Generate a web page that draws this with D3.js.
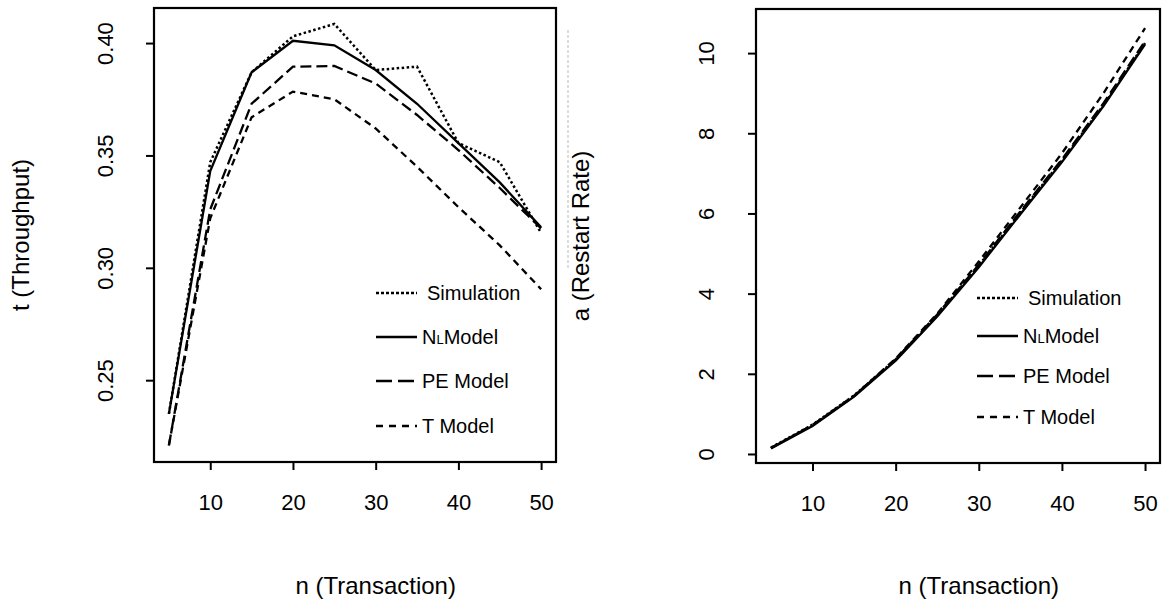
<!DOCTYPE html>
<html>
<head>
<meta charset="utf-8">
<script src="https://cdn.jsdelivr.net/npm/d3@7/dist/d3.min.js"></script>
<style>
  html, body { margin: 0; padding: 0; background: #fff; }
  svg { display: block; }
  text { font-family: "Liberation Sans", Arial, Helvetica, sans-serif; fill: #000; }
</style>
</head>
<body>
<svg id="chart" width="1163" height="612"></svg>
<script>
// ---- data ----
const nValues = [5, 10, 15, 20, 25, 30, 35, 40, 45, 50];

const throughputSim = [0.235, 0.347, 0.387, 0.403, 0.4085, 0.388, 0.3895, 0.3555, 0.347, 0.3155];
const throughputNL  = [0.235, 0.343, 0.387, 0.401, 0.399, 0.388, 0.373, 0.3555, 0.338, 0.318];
const throughputPE  = [0.221, 0.326, 0.373, 0.3895, 0.3898, 0.382, 0.368, 0.3524, 0.3355, 0.3175];
const throughputT   = [0.221, 0.322, 0.367, 0.3784, 0.375, 0.362, 0.345, 0.327, 0.310, 0.2905];

const restartSim = [0.16, 0.73, 1.46, 2.36, 3.45, 4.70, 6.02, 7.32, 8.70, 10.25];
const restartNL  = [0.14, 0.70, 1.43, 2.33, 3.43, 4.66, 5.98, 7.28, 8.68, 10.22];
const restartPE  = [0.15, 0.72, 1.45, 2.36, 3.48, 4.72, 6.05, 7.35, 8.75, 10.30];
const restartT   = [0.15, 0.72, 1.45, 2.38, 3.50, 4.80, 6.15, 7.50, 9.00, 10.62];

const xTicks = [10, 20, 30, 40, 50];
const throughputTicks = [0.25, 0.30, 0.35, 0.40];
const restartTicks = [0, 2, 4, 6, 8, 10];
const seriesNames = ["Simulation", "NL Model", "PE Model", "T Model"];

// ---- styles ----
const dashes = { "Simulation": "2.5,2.5", "NL Model": null, "PE Model": "11,5", "T Model": "7,5" };
const legendDashes = { "Simulation": "3,2", "NL Model": null, "PE Model": "16,6", "T Model": "7,6" };

const svg = d3.select("#chart");

function panel(cfg) {
  const g = svg.append("g");
  const x = d3.scaleLinear().domain([3.2, 51.8]).range([cfg.left, cfg.right]);
  const y = d3.scaleLinear().domain(cfg.yDomain).range([cfg.bottom, cfg.top]);

  // x axis
  const xa = g.append("g").attr("transform", `translate(0,${cfg.bottom})`)
    .call(d3.axisBottom(x).tickValues(xTicks).tickSize(8).tickPadding(24).tickFormat(d3.format("d")));
  xa.select(".domain").remove();
  xa.selectAll("line").attr("stroke", "#000").attr("stroke-width", 2);
  xa.selectAll("text").attr("font-size", 22).attr("dy", "0.71em");

  // y axis
  const ya = g.append("g").attr("transform", `translate(${cfg.left},0)`)
    .call(d3.axisLeft(y).tickValues(cfg.yTicks).tickSize(8).tickFormat(cfg.yFormat));
  ya.select(".domain").remove();
  ya.selectAll("line").attr("stroke", "#000").attr("stroke-width", 2);
  ya.selectAll(".tick text")
    .attr("x", null).attr("dy", null)
    .attr("font-size", 22)
    .attr("text-anchor", "middle")
    .attr("transform", `translate(${-cfg.yLabelOff},0) rotate(-90)`)
    .attr("dy", "0.36em");

  // box
  g.append("rect").attr("x", cfg.left).attr("y", cfg.top)
    .attr("width", cfg.right - cfg.left).attr("height", cfg.bottom - cfg.top)
    .attr("fill", "none").attr("stroke", "#000").attr("stroke-width", 2.2);

  // lines
  const line = d3.line().x((d, i) => x(nValues[i])).y(d => y(d));
  cfg.series.forEach((vals, k) => {
    const name = seriesNames[k];
    g.append("path").datum(vals).attr("d", line)
      .attr("fill", "none").attr("stroke", "#000")
      .attr("stroke-width", name === "Simulation" ? 2.5 : 2.3)
      .attr("stroke-dasharray", dashes[name]);
  });

  // legend
  cfg.legendY.forEach((ly, k) => {
    const name = seriesNames[k];
    g.append("line").attr("x1", cfg.legendX).attr("x2", cfg.legendX + 41)
      .attr("y1", ly).attr("y2", ly).attr("stroke", "#000").attr("stroke-width", 2.3)
      .attr("stroke-dasharray", legendDashes[name]);
    const t = g.append("text").attr("x", cfg.legendX + (name === "Simulation" ? 51 : 46))
      .attr("y", ly + 7).attr("font-size", 20);
    if (name === "NL Model") {
      t.append("tspan").text("N");
      t.append("tspan").attr("font-size", 13).text("L");
      t.append("tspan").text("Model");
    } else {
      t.text(name);
    }
  });

  // axis titles
  g.append("text").attr("x", x(30)).attr("y", 594).attr("text-anchor", "middle")
    .attr("font-size", 24).text("n (Transaction)");
  g.append("text").attr("transform", `translate(${cfg.yTitleX},${(cfg.top + cfg.bottom) / 2}) rotate(-90)`)
    .attr("text-anchor", "middle").attr("font-size", 24).text(cfg.yTitle);
}

panel({
  left: 154, right: 556, top: 8, bottom: 462,
  yDomain: [0.2136, 0.4156], yTicks: throughputTicks, yFormat: d3.format(".2f"),
  yLabelOff: 49, yTitle: "t (Throughput)", yTitleX: 29,
  series: [throughputSim, throughputNL, throughputPE, throughputT],
  legendX: 376, legendY: [293, 337, 381, 426]
});

panel({
  left: 756, right: 1160, top: 9, bottom: 463,
  yDomain: [-0.225, 11.1], yTicks: restartTicks, yFormat: d3.format("d"),
  yLabelOff: 50, yTitle: "a (Restart Rate)", yTitleX: 589,
  series: [restartSim, restartNL, restartPE, restartT],
  legendX: 977, legendY: [298, 336, 376, 417]
});

// faint scan artifact line between panels
svg.append("line").attr("x1", 568).attr("x2", 568).attr("y1", 30).attr("y2", 270)
  .attr("stroke", "#bbb").attr("stroke-width", 1).attr("stroke-dasharray", "3,2");
</script>
</body>
</html>
